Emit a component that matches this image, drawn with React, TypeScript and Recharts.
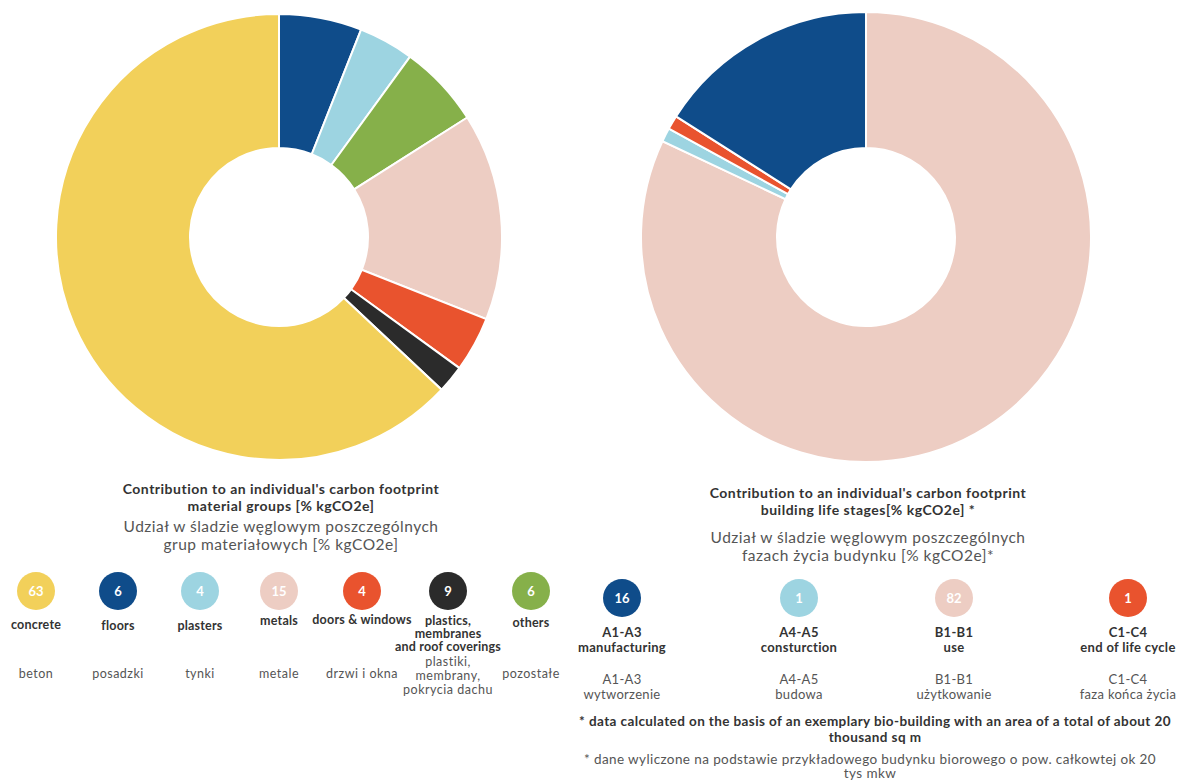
import React from "react";
import { PieChart, Pie, Cell } from "recharts";

// material groups (left donut, clockwise from 12 o'clock)
const materialNames = ["floors", "plasters", "others", "metals", "doors & windows", "plastics", "concrete"];
const materialSlices = [6, 4, 6, 15, 4, 2, 63];
const materialSliceColors = ["#0f4c8a", "#9dd4e1", "#86b04a", "#edcdc3", "#e9532e", "#2b2b2b", "#f2d05a"];

// legend row under the left donut
const materialLegendValues = ["63", "6", "4", "15", "4", "9", "6"];
const materialLegendColors = ["#f2d05a", "#0f4c8a", "#9dd4e1", "#edcdc3", "#e9532e", "#2b2b2b", "#86b04a"];
const materialLegendEn = ["concrete", "floors", "plasters", "metals", "doors & windows", "plastics,\nmembranes\nand roof coverings", "others"];
const materialLegendPl = ["beton", "posadzki", "tynki", "metale", "drzwi i okna", "plastiki,\nmembrany,\npokrycia dachu", "pozostałe"];

// life stages (right donut, clockwise from 12 o'clock)
const stageNames = ["B1-B1", "A4-A5", "C1-C4", "A1-A3"];
const stageSlices = [82, 1, 1, 16];
const stageSliceColors = ["#edcdc3", "#9dd4e1", "#e9532e", "#0f4c8a"];

const stageLegendValues = ["16", "1", "82", "1"];
const stageLegendColors = ["#0f4c8a", "#9dd4e1", "#edcdc3", "#e9532e"];
const stageLegendEn = ["A1-A3\nmanufacturing", "A4-A5\nconsturction", "B1-B1\nuse", "C1-C4\nend of life cycle"];
const stageLegendPl = ["A1-A3\nwytworzenie", "A4-A5\nbudowa", "B1-B1\nużytkowanie", "C1-C4\nfaza końca życia"];

const FONT = "Lato, 'Open Sans', sans-serif";

const materialData = materialNames.map((name, i) => ({ name, value: materialSlices[i] }));
const stageData = stageNames.map((name, i) => ({ name, value: stageSlices[i] }));

// each line is its own centered block so neighbouring labels don't collide
const Text = ({ x, y, size = 12, lh = 14, ls = 0, bold = false, color = "#333", children }: any) => (
  <>
    {String(children)
      .split("\n")
      .map((line, k) => (
        <div
          key={k}
          style={{
            position: "absolute",
            left: x,
            top: y + k * lh,
            transform: "translateX(-50%)",
            textAlign: "center",
            fontSize: size,
            lineHeight: `${lh}px`,
            letterSpacing: ls,
            fontWeight: bold ? 700 : 400,
            color,
            whiteSpace: "nowrap",
            fontFamily: FONT,
          }}
        >
          {line}
        </div>
      ))}
  </>
);

const Dot = ({ x, y, color, label }: any) => (
  <div
    style={{
      position: "absolute",
      left: x - 19,
      top: y - 19,
      width: 38,
      height: 38,
      borderRadius: "50%",
      background: color,
      color: "#fff",
      fontWeight: 700,
      fontSize: 13,
      lineHeight: "38px",
      textAlign: "center",
      fontFamily: FONT,
    }}
  >
    {label}
  </div>
);

const materialX = [36, 118, 200, 279, 362, 448, 531];
const materialEnY = [618, 619, 619, 614, 613, 614, 616];
const stageX = [622, 799, 954, 1128];

export default function App() {
  return (
    <div
      style={{
        position: "absolute",
        left: 0,
        top: 0,
        width: 1186,
        height: 780,
        overflow: "hidden",
        background: "#fff",
        fontFamily: FONT,
      }}
    >
      <PieChart width={1186} height={480} margin={{ top: 0, right: 0, bottom: 0, left: 0 }}>
        <Pie
          data={materialData}
          dataKey="value"
          nameKey="name"
          cx={279}
          cy={237}
          innerRadius={89}
          outerRadius={223}
          startAngle={90}
          endAngle={-270}
          stroke="#fff"
          strokeWidth={2}
          isAnimationActive={false}
        >
          {materialData.map((_, i) => (
            <Cell key={i} fill={materialSliceColors[i]} />
          ))}
        </Pie>
        <Pie
          data={stageData}
          dataKey="value"
          nameKey="name"
          cx={866}
          cy={237}
          innerRadius={89}
          outerRadius={225}
          startAngle={90}
          endAngle={-270}
          stroke="#fff"
          strokeWidth={2}
          isAnimationActive={false}
        >
          {stageData.map((_, i) => (
            <Cell key={i} fill={stageSliceColors[i]} />
          ))}
        </Pie>
      </PieChart>

      <Text x={281} y={480} size={14} lh={17} ls={0.5} bold>
        {"Contribution to an individual's carbon footprint\nmaterial groups [% kgCO2e]"}
      </Text>
      <Text x={281} y={517} size={15.5} lh={18} ls={0.5} color="#555">
        {"Udział w śladzie węglowym poszczególnych\ngrup materiałowych [% kgCO2e]"}
      </Text>

      <Text x={868} y={484} size={14} lh={17} ls={0.5} bold>
        {"Contribution to an individual's carbon footprint\nbuilding life stages[% kgCO2e] *"}
      </Text>
      <Text x={868} y={528} size={15.5} lh={18} ls={0.5} color="#555">
        {"Udział w śladzie węglowym poszczególnych\nfazach życia budynku [% kgCO2e]*"}
      </Text>

      {materialLegendValues.map((v, i) => (
        <React.Fragment key={i}>
          <Dot x={materialX[i]} y={591} color={materialLegendColors[i]} label={v} />
          <Text x={materialX[i]} y={materialEnY[i]} size={12.5} lh={13} ls={0.2} bold>
            {materialLegendEn[i]}
          </Text>
          <Text x={materialX[i]} y={i === 5 ? 655 : 667} size={12.5} lh={14} ls={0.5} color="#555">
            {materialLegendPl[i]}
          </Text>
        </React.Fragment>
      ))}

      {stageLegendValues.map((v, i) => (
        <React.Fragment key={i}>
          <Dot x={stageX[i]} y={598} color={stageLegendColors[i]} label={v} />
          <Text x={stageX[i]} y={625} size={13} lh={15} ls={0.3} bold>
            {stageLegendEn[i]}
          </Text>
          <Text x={stageX[i]} y={672} size={13} lh={15} ls={0.3} color="#555">
            {stageLegendPl[i]}
          </Text>
        </React.Fragment>
      ))}

      <Text x={875} y={713} size={13.5} lh={16} ls={0.4} bold>
        {"* data calculated on the basis of an exemplary bio-building with an area of a total of about 20\nthousand sq m"}
      </Text>
      <Text x={870} y={752} size={13.5} lh={14} ls={0.4} color="#555">
        {"* dane wyliczone na podstawie przykładowego budynku biorowego o pow. całkowtej ok 20\ntys mkw"}
      </Text>
    </div>
  );
}
